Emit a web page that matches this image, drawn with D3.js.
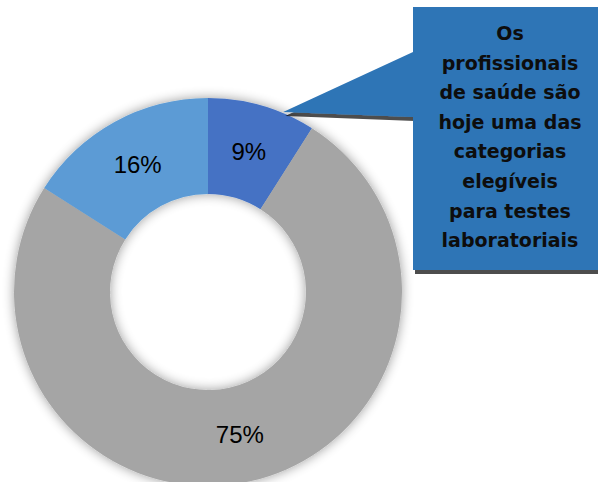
<!DOCTYPE html>
<html>
<head>
<meta charset="utf-8">
<script src="https://cdn.jsdelivr.net/npm/d3@7"></script>
<style>
html,body{margin:0;padding:0;background:#fff;overflow:hidden;}
svg{display:block;}
</style>
</head>
<body>
<svg id="chart" width="598" height="482"></svg>
<script>
// Data
const categories = ["Profissionais de saúde", "Outros", "Restantes categorias"];
const values = [9, 75, 16];
const labels = ["9%", "75%", "16%"];
const colors = ["#4472C4", "#A5A5A5", "#5B9BD5"];
const calloutLines = ["Os", "profissionais", "de saúde são", "hoje uma das", "categorias", "elegíveis", "para testes", "laboratoriais"];

const svg = d3.select("#chart");
const defs = svg.append("defs");

const sh = defs.append("filter").attr("id", "ringShadow")
  .attr("x", "-20%").attr("y", "-20%").attr("width", "140%").attr("height", "140%");
sh.append("feGaussianBlur").attr("in", "SourceAlpha").attr("stdDeviation", 6).attr("result", "b");
sh.append("feComponentTransfer").attr("in", "b").attr("result", "b2")
  .append("feFuncA").attr("type", "linear").attr("slope", 0.4);
const m1 = sh.append("feMerge");
m1.append("feMergeNode").attr("in", "b2");
m1.append("feMergeNode").attr("in", "SourceGraphic");

const bs = defs.append("filter").attr("id", "boxShadow")
  .attr("x", "-10%").attr("y", "-10%").attr("width", "130%").attr("height", "130%");
bs.append("feOffset").attr("in", "SourceAlpha").attr("dx", 2).attr("dy", 4).attr("result", "o");
bs.append("feGaussianBlur").attr("in", "o").attr("stdDeviation", 0.6).attr("result", "ob");
bs.append("feComponentTransfer").attr("in", "ob").attr("result", "ob2")
  .append("feFuncA").attr("type", "linear").attr("slope", 0.7);
const m2 = bs.append("feMerge");
m2.append("feMergeNode").attr("in", "ob2");
m2.append("feMergeNode").attr("in", "SourceGraphic");

const cx = 208, cy = 292, outerR = 194, innerR = 98;

const pie = d3.pie().value(d => d).sort(null);
const arc = d3.arc().innerRadius(innerR).outerRadius(outerR);
const arcs = pie(values);

const g = svg.append("g").attr("transform", `translate(${cx},${cy})`);
g.append("g").attr("filter", "url(#ringShadow)")
  .selectAll("path").data(arcs).join("path")
  .attr("d", arc)
  .attr("fill", (d, i) => colors[i]);

g.selectAll("text.lbl").data(arcs).join("text")
  .attr("class", "lbl")
  .attr("transform", d => `translate(${arc.centroid(d)})`)
  .attr("text-anchor", "middle")
  .attr("dominant-baseline", "central")
  .attr("font-family", "'Liberation Sans', Arial, sans-serif")
  .attr("font-size", 24)
  .attr("fill", "#000")
  .text((d, i) => labels[i]);

// Callout (tip anchored at the outer edge of the 9% slice)
const tipAngle = arcs[0].startAngle + (arcs[0].endAngle - arcs[0].startAngle) * 0.70;
const tipR = outerR + 1;
const tipX = cx + tipR * Math.sin(tipAngle);
const tipY = cy - tipR * Math.cos(tipAngle);
const bx0 = 413, by0 = 7, bx1 = 607, by1 = 270;
const callout = d3.path();
callout.moveTo(bx0, by0);
callout.lineTo(bx1, by0);
callout.lineTo(bx1, by1);
callout.lineTo(bx0, by1);
callout.lineTo(bx0, 117);
callout.lineTo(tipX, tipY);
callout.lineTo(bx0, 52);
callout.closePath();
svg.append("path").attr("d", callout.toString())
  .attr("fill", "#2E75B6")
  .attr("filter", "url(#boxShadow)");

const tx = 510;
svg.append("g").selectAll("text").data(calloutLines).join("text")
  .attr("x", tx)
  .attr("y", (d, i) => 33 + i * 29.6)
  .attr("text-anchor", "middle")
  .attr("dominant-baseline", "central")
  .attr("font-family", "'DejaVu Sans', Verdana, sans-serif")
  .attr("font-weight", "bold")
  .attr("font-size", 19)
  .attr("fill", "#0d0d0d")
  .text(d => d);
</script>
</body>
</html>
